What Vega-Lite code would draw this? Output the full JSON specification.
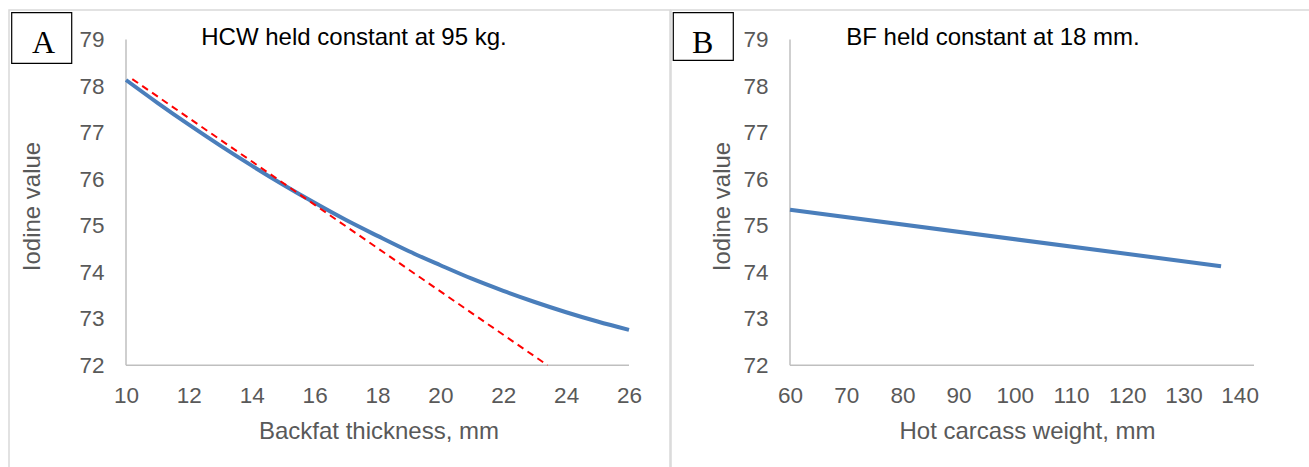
{
  "$schema": "https://vega.github.io/schema/vega-lite/v6.json",
  "padding": {"left": 8, "top": 9, "right": 0, "bottom": 0},
  "background": "white",
  "spacing": -2,
  "datasets": {
    "a_curve": [
      {"bf": 10, "iv": 78.13}, {"bf": 11, "iv": 77.64}, {"bf": 12, "iv": 77.17},
      {"bf": 13, "iv": 76.72}, {"bf": 14, "iv": 76.29}, {"bf": 15, "iv": 75.88},
      {"bf": 16, "iv": 75.49}, {"bf": 17, "iv": 75.12}, {"bf": 18, "iv": 74.78},
      {"bf": 19, "iv": 74.45}, {"bf": 20, "iv": 74.15}, {"bf": 21, "iv": 73.86},
      {"bf": 22, "iv": 73.6}, {"bf": 23, "iv": 73.36}, {"bf": 24, "iv": 73.14},
      {"bf": 25, "iv": 72.94}, {"bf": 26, "iv": 72.76}
    ],
    "a_line": [
      {"bf": 10.2, "iv": 78.15}, {"bf": 23.41, "iv": 72.0}
    ],
    "b_curve": [
      {"hcw": 60, "iv": 75.34}, {"hcw": 136.7, "iv": 74.13}
    ],
    "a_panel": [
      {"panel": "A", "heading": "HCW held constant at 95 kg."}
    ],
    "b_panel": [
      {"panel": "B", "heading": "BF held constant at 18 mm."}
    ]
  },
  "config": {
    "view": {"stroke": "#d9d9d9", "strokeWidth": 1.5},
    "axis": {
      "grid": false, "domain": false, "ticks": false, "tickSize": 0,
      "labelFont": "Liberation Sans", "labelFontSize": 22.5, "labelColor": "#595959",
      "titleFont": "Liberation Sans", "titleFontSize": 24, "titleColor": "#595959",
      "titleFontWeight": "normal", "labelOverlap": false
    }
  },
  "hconcat": [
    {
      "width": 661,
      "height": 460,
      "data": {"name": "a_panel"},
      "layer": [
        {
          "mark": {"type": "rule", "color": "#bfbfbf", "strokeWidth": 1.5},
          "encoding": {"x": {"datum": 10, "type": "quantitative"}, "y": {"datum": 72, "type": "quantitative"}, "y2": {"datum": 79}}
        },
        {
          "mark": {"type": "rule", "color": "#bfbfbf", "strokeWidth": 1.5},
          "encoding": {"x": {"datum": 10, "type": "quantitative"}, "x2": {"datum": 26}, "y": {"datum": 72, "type": "quantitative"}}
        },
        {
          "data": {"name": "a_curve"},
          "mark": {"type": "line", "color": "#4a7ebb", "strokeWidth": 4, "interpolate": "monotone"},
          "encoding": {
            "x": {
              "field": "bf", "type": "quantitative", "title": "Backfat thickness, mm",
              "scale": {"domain": [6.2783, 27.304], "nice": false, "zero": false},
              "axis": {"values": [10, 12, 14, 16, 18, 20, 22, 24, 26], "offset": -104.7, "labelPadding": 19, "titleX": 369.5, "titleY": 72.7, "titleBaseline": "alphabetic"}
            },
            "y": {
              "field": "iv", "type": "quantitative", "title": "Iodine value",
              "scale": {"domain": [69.75, 79.634], "nice": false, "zero": false},
              "axis": {"values": [72, 73, 74, 75, 76, 77, 78, 79], "offset": -117, "labelPadding": 22, "titleX": -94, "titleY": 196, "titleBaseline": "middle"}
            }
          }
        },
        {
          "data": {"name": "a_line"},
          "mark": {"type": "line", "color": "#ff0000", "strokeWidth": 2, "strokeDash": [7, 5]},
          "encoding": {
            "x": {"field": "bf", "type": "quantitative"},
            "y": {"field": "iv", "type": "quantitative"}
          }
        },
        {
          "mark": {"type": "rect", "fill": "#ffffff", "stroke": "#000000", "strokeWidth": 1.2},
          "encoding": {
            "x": {"datum": 6.364, "type": "quantitative"}, "x2": {"datum": 8.273},
            "y": {"datum": 79.576, "type": "quantitative"}, "y2": {"datum": 78.489}
          }
        },
        {
          "mark": {"type": "text", "font": "Liberation Serif", "fontSize": 32, "color": "#000000", "align": "center", "baseline": "alphabetic"},
          "encoding": {
            "x": {"datum": 7.376, "type": "quantitative"},
            "y": {"datum": 78.704, "type": "quantitative"},
            "text": {"field": "panel"}
          }
        },
        {
          "mark": {"type": "text", "font": "Liberation Sans", "fontSize": 24, "color": "#000000", "align": "center", "baseline": "alphabetic"},
          "encoding": {
            "x": {"datum": 17.252, "type": "quantitative"},
            "y": {"datum": 78.876, "type": "quantitative"},
            "text": {"field": "heading"}
          }
        }
      ]
    },
    {
      "width": 645,
      "height": 460,
      "data": {"name": "b_panel"},
      "layer": [
        {
          "mark": {"type": "rule", "color": "#bfbfbf", "strokeWidth": 1.5},
          "encoding": {"x": {"datum": 60, "type": "quantitative"}, "y": {"datum": 72, "type": "quantitative"}, "y2": {"datum": 79}}
        },
        {
          "mark": {"type": "rule", "color": "#bfbfbf", "strokeWidth": 1.5},
          "encoding": {"x": {"datum": 60, "type": "quantitative"}, "x2": {"datum": 142.56}, "y": {"datum": 72, "type": "quantitative"}}
        },
        {
          "data": {"name": "b_curve"},
          "mark": {"type": "line", "color": "#4a7ebb", "strokeWidth": 4},
          "encoding": {
            "x": {
              "field": "hcw", "type": "quantitative", "title": "Hot carcass weight, mm",
              "scale": {"domain": [38.826, 153.59], "nice": false, "zero": false},
              "axis": {"values": [60, 70, 80, 90, 100, 110, 120, 130, 140], "offset": -104.7, "labelPadding": 19, "titleX": 356, "titleY": 72.7, "titleBaseline": "alphabetic"}
            },
            "y": {
              "field": "iv", "type": "quantitative", "title": "Iodine value",
              "scale": {"domain": [69.75, 79.634], "nice": false, "zero": false},
              "axis": {"values": [72, 73, 74, 75, 76, 77, 78, 79], "offset": -119, "labelPadding": 22, "titleX": -68, "titleY": 196, "titleBaseline": "middle"}
            }
          }
        },
        {
          "mark": {"type": "rect", "fill": "#ffffff", "stroke": "#000000", "strokeWidth": 1.2},
          "encoding": {
            "x": {"datum": 39.235, "type": "quantitative"}, "x2": {"datum": 49.911},
            "y": {"datum": 79.576, "type": "quantitative"}, "y2": {"datum": 78.553}
          }
        },
        {
          "mark": {"type": "text", "font": "Liberation Serif", "fontSize": 32, "color": "#000000", "align": "center", "baseline": "alphabetic"},
          "encoding": {
            "x": {"datum": 44.467, "type": "quantitative"},
            "y": {"datum": 78.717, "type": "quantitative"},
            "text": {"field": "panel"}
          }
        },
        {
          "mark": {"type": "text", "font": "Liberation Sans", "fontSize": 24, "color": "#000000", "align": "center", "baseline": "alphabetic"},
          "encoding": {
            "x": {"datum": 96.12, "type": "quantitative"},
            "y": {"datum": 78.876, "type": "quantitative"},
            "text": {"field": "heading"}
          }
        }
      ]
    }
  ]
}
